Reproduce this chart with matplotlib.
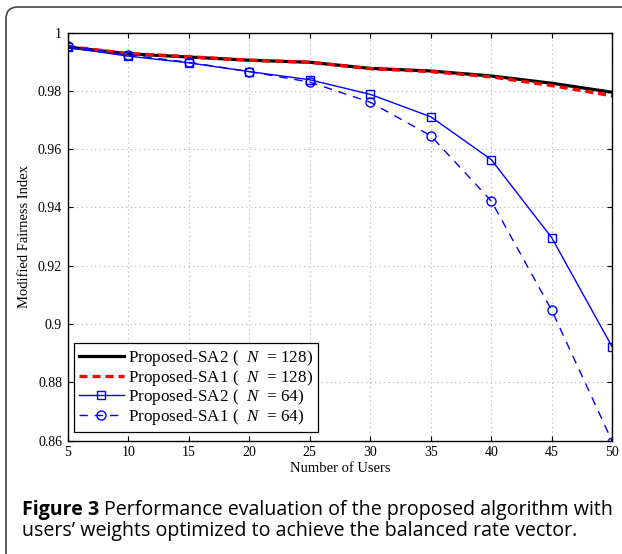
import numpy as np
import matplotlib
matplotlib.use("Agg")
import matplotlib.pyplot as plt
from matplotlib.patches import FancyBboxPatch

users = [5, 10, 15, 20, 25, 30, 35, 40, 45, 50]
sa2_128 = [0.9950, 0.9927, 0.9916, 0.9905, 0.9898, 0.9877, 0.9868, 0.9851, 0.9826, 0.9795]
sa1_128 = [0.9952, 0.9928, 0.9917, 0.9905, 0.9898, 0.9876, 0.9866, 0.9848, 0.9818, 0.9783]
sa2_64 = [0.9949, 0.9919, 0.9896, 0.9866, 0.9838, 0.9788, 0.9711, 0.9564, 0.9296, 0.8921]
sa1_64 = [0.9954, 0.9923, 0.9898, 0.9866, 0.9830, 0.9761, 0.9646, 0.9422, 0.9047, 0.8597]

labels = ["Proposed-SA2 (  $N$  = 128)", "Proposed-SA1 (  $N$  = 128)",
          "Proposed-SA2 (  $N$  = 64)", "Proposed-SA1 (  $N$  = 64)"]

plt.rcParams['font.family'] = ['Liberation Serif', 'DejaVu Serif']
plt.rcParams['mathtext.fontset'] = 'custom'
plt.rcParams['mathtext.it'] = 'Liberation Serif:italic'
plt.rcParams['mathtext.rm'] = 'Liberation Serif'

fig = plt.figure(figsize=(6.22, 5.54), dpi=100)
ax = fig.add_axes([0.1088, 0.2045, 0.8756, 0.7368])

ax.plot(users, sa2_128, color='k', lw=2.3, label=labels[0])
ax.plot(users, sa1_128, color='r', lw=2.4, dashes=(2.4, 1.5), label=labels[1])
ax.plot(users, sa2_64, color='b', lw=1.0, marker='s', ms=5.5, mfc='none', mew=1.0,
        label=labels[2])
ax.plot(users, sa1_64, color='b', lw=1.0, dashes=(6, 5), marker='o', ms=6.5,
        mfc='none', mew=1.0, label=labels[3])

ax.set_xlim(5, 50)
ax.set_ylim(0.86, 1.0)
ax.set_xticks(np.arange(5, 51, 5))
ax.set_yticks([0.86, 0.88, 0.9, 0.92, 0.94, 0.96, 0.98, 1.0])
ax.set_yticklabels(['0.86', '0.88', '0.9', '0.92', '0.94', '0.96', '0.98', '1'])
ax.tick_params(direction='in', top=True, right=True, length=3.6, width=0.8,
               labelsize=10, pad=4)
ax.grid(True, linestyle=(0, (1, 3)), color='#b0b0b0', lw=0.8)
for s in ax.spines.values():
    s.set_linewidth(1.0)
ax.set_xlabel("Number of Users", fontsize=10.5, labelpad=2)
ax.set_ylabel("Modified Fairness Index", fontsize=10.5, labelpad=5)

leg = ax.legend(loc='lower left', bbox_to_anchor=(0.0116, 0.0213), borderaxespad=0,
                fontsize=12.3, fancybox=False, edgecolor='k', framealpha=1,
                handlelength=2.6, handletextpad=0.25, labelspacing=-0.02, borderpad=0.3)
leg.get_frame().set_linewidth(0.9)

# rounded frame around the figure
frame = FancyBboxPatch((6, -30), 660, 577, boxstyle="round,pad=0,rounding_size=12",
                       transform=None, fill=False, edgecolor='#444444', lw=1.2)
fig.patches.append(frame)

cap_font = ['Open Sans', 'DejaVu Sans']
cap_size = 14.1
x0 = 22 / 622
t1 = fig.text(x0, 1 - 515 / 554, "Figure 3", fontsize=cap_size, fontweight='bold',
              family=cap_font, va='baseline')
fig.canvas.draw()
w = t1.get_window_extent().width
fig.text(x0 + (w + 5) / 622, 1 - 515 / 554,
         "Performance evaluation of the proposed algorithm with",
         fontsize=cap_size, family=cap_font, va='baseline')
fig.text(x0, 1 - 536 / 554, "users\u2019 weights optimized to achieve the balanced rate vector.",
         fontsize=cap_size, family=cap_font, va='baseline')

fig.savefig("out.png", dpi=100)
